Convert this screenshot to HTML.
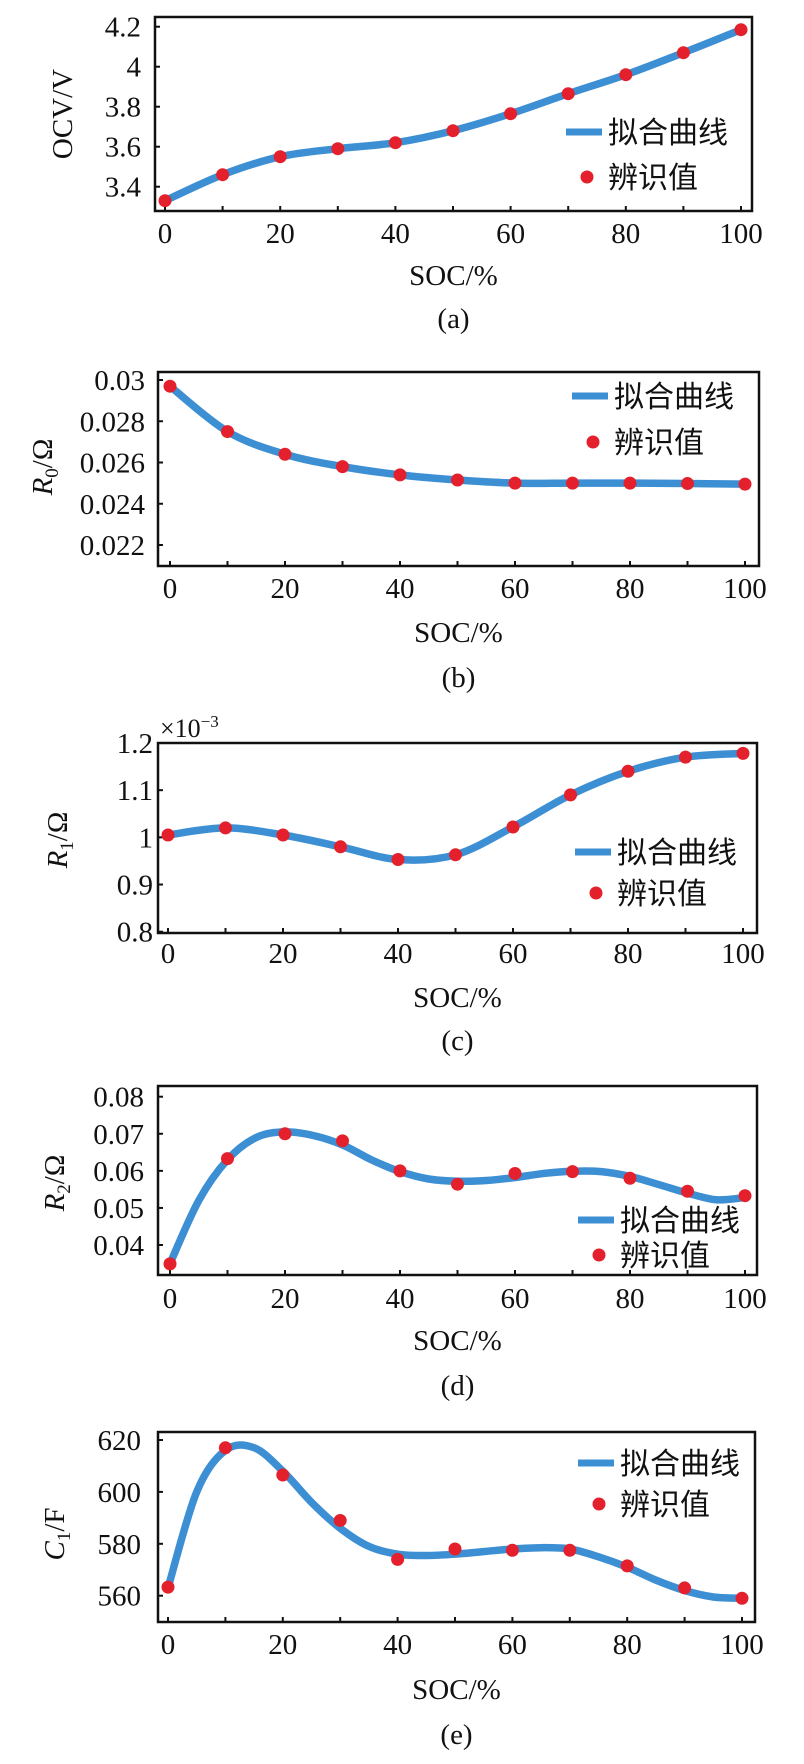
<!DOCTYPE html>
<html><head><meta charset="utf-8">
<style>
html,body{margin:0;padding:0;background:#fff;}
svg{display:block;}
text{font-family:"Liberation Serif","Noto Serif CJK SC",serif;fill:#111;}
.cjk{font-family:"Liberation Serif","Noto Sans CJK SC",sans-serif;}
</style></head>
<body>
<svg id="fig" width="804" height="1764" viewBox="0 0 804 1764" xmlns="http://www.w3.org/2000/svg"></svg>
<script>
const socTicks = [0,20,40,60,80,100];
const socPoints = [0,10,20,30,40,50,60,70,80,90,100];
const fitSoc = [0,5,10,15,20,25,30,35,40,45,50,55,60,65,70,75,80,85,90,95,100];

const ocvTicks = [3.4,3.6,3.8,4.0,4.2];
const ocvTickLabels = ["3.4","3.6","3.8","4","4.2"];
const ocvValues = [3.33,3.46,3.55,3.59,3.62,3.68,3.765,3.865,3.96,4.07,4.185];

const r0Ticks = [0.022,0.024,0.026,0.028,0.03];
const r0TickLabels = ["0.022","0.024","0.026","0.028","0.03"];
const r0Values = [0.0297,0.0275,0.0264,0.0258,0.0254,0.02515,0.0250,0.0250,0.0250,0.02498,0.02495];

const r1Ticks = [0.8,0.9,1.0,1.1,1.2];
const r1TickLabels = ["0.8","0.9","1","1.1","1.2"];
const r1Values = [1.005,1.02,1.005,0.98,0.953,0.963,1.022,1.09,1.14,1.17,1.178];

const r2Ticks = [0.04,0.05,0.06,0.07,0.08];
const r2TickLabels = ["0.04","0.05","0.06","0.07","0.08"];
const r2Values = [0.0349,0.0633,0.0700,0.0681,0.0600,0.0564,0.0593,0.0598,0.0580,0.0545,0.0533];
const r2Fit = [0.035,0.052,0.063,0.069,0.0705,0.0695,0.067,0.063,0.0598,0.0578,0.0572,0.0574,0.0582,0.0593,0.0599,0.0598,0.0585,0.0563,0.0540,0.0522,0.0528];

const c1Ticks = [560,580,600,620];
const c1TickLabels = ["560","580","600","620"];
const c1Values = [563.3,617,606.5,589,574,578,577.5,577.5,571.5,563,559];
const c1Fit = [563,600,616,617,608,596,586,579,576,575.5,576,577,578,578.5,578,575,571,566,562,559.5,559];

const NS = "http://www.w3.org/2000/svg";
const svg = document.getElementById('fig');
function mk(tag, attrs, parent){
  const e = document.createElementNS(NS, tag);
  for (const k in attrs) e.setAttribute(k, attrs[k]);
  (parent||svg).appendChild(e);
  return e;
}
function catmull(pts){
  let d = "M"+pts[0][0]+","+pts[0][1];
  for (let i=0;i<pts.length-1;i++){
    const p0=pts[Math.max(0,i-1)], p1=pts[i], p2=pts[i+1], p3=pts[Math.min(pts.length-1,i+2)];
    const c1x=p1[0]+(p2[0]-p0[0])/6, c1y=p1[1]+(p2[1]-p0[1])/6;
    const c2x=p2[0]-(p3[0]-p1[0])/6, c2y=p2[1]-(p3[1]-p1[1])/6;
    d += " C"+c1x+","+c1y+" "+c2x+","+c2y+" "+p2[0]+","+p2[1];
  }
  return d;
}

function panel(cfg){
  const g = mk('g', {});
  
  
  const xs = v => cfg.x0 + (v/100)*(cfg.x100-cfg.x0);
  const ys = v => cfg.yA + (v-cfg.vA)*(cfg.yB-cfg.yA)/(cfg.vB-cfg.vA);
  // frame
  const fr = mk('rect', {x:cfg.L, y:cfg.T, width:cfg.R-cfg.L, height:cfg.B-cfg.T, fill:'none', stroke:'#111', 'stroke-width':2.5}, g);
  
  
  // y ticks
  cfg.yTicks.forEach((v,i)=>{
    const y = ys(v);
    mk('line',{x1:cfg.L, x2:cfg.L+5, y1:y, y2:y, stroke:'#111','stroke-width':2}, g);
    const t = mk('text',{x:cfg.L-cfg.gap, y:y+10, 'font-size':29, 'text-anchor':'end'}, g);
    
    
    t.textContent = cfg.yLabels[i];
  });
  // x ticks
  socTicks.forEach(v=>{
    const x = xs(v);
    const t = mk('text',{x:x, y:cfg.xLabY, 'font-size':29, 'text-anchor':'middle'}, g);
    
    
    t.textContent = String(v);
  });
  socPoints.forEach(v=>{
    const x = xs(v);
    mk('line',{x1:x, x2:x, y1:cfg.B, y2:cfg.B-5, stroke:'#111','stroke-width':2}, g);
  });
  // x title
  const xt = mk('text',{x:(cfg.L+cfg.R)/2, y:cfg.xTitleY, 'font-size':29, 'text-anchor':'middle'}, g);
  
  
  xt.textContent = 'SOC/%';
  const cap = mk('text',{x:(cfg.L+cfg.R)/2, y:cfg.capY, 'font-size':29, 'text-anchor':'middle'}, g);
  
  
  cap.textContent = cfg.caption;
  // y title
  const yt = mk('text',{x:0, y:0, 'font-size':29, 'text-anchor':'middle', transform:'translate('+cfg.ytX+','+cfg.ytY+') rotate(-90)'}, g);
  
  
  yt.innerHTML = cfg.ytHtml;
  if (cfg.exp){
    const ex = mk('text',{x:cfg.L+2, y:cfg.T-6, 'font-size':26}, g);
    
    
    ex.innerHTML = '×10<tspan dy="-10" font-size="17">−3</tspan>';
  }
  // fit curve
  const fx = cfg.fit ? fitSoc : socPoints;
  const fv = cfg.fit ? cfg.fit : cfg.values;
  const pts = fx.map((s,i)=>[xs(s), ys(fv[i])]);
  const path = mk('path',{d:catmull(pts), fill:'none', stroke:'#3d8fd4', 'stroke-width':7.5, 'stroke-linecap':'round'}, g);
  
  
  // points
  socPoints.forEach((s,i)=>{
    const c = mk('circle',{cx:xs(s), cy:ys(cfg.values[i]), r:6.5, fill:'#e3202b'}, g);
    
    
  });
  // legend
  const lg = mk('g',{}, g);
  
  
  mk('line',{x1:cfg.lgX, x2:cfg.lgX+36, y1:cfg.lgY1, y2:cfg.lgY1, stroke:'#3d8fd4','stroke-width':7}, lg);
  const l1 = mk('text',{x:cfg.lgX+42, y:cfg.lgY1+11, 'font-size':30, 'class':'cjk'}, lg);
  
  
  l1.textContent = '拟合曲线';
  mk('circle',{cx:cfg.lgX+21, cy:cfg.lgY2, r:6.5, fill:'#e3202b'}, lg);
  const l2 = mk('text',{x:cfg.lgX+42, y:cfg.lgY2+11, 'font-size':30, 'class':'cjk'}, lg);
  
  
  l2.textContent = '辨识值';
}

panel({name:'panel-a-ocv', L:155,R:752,T:17,B:211, x0:165,x100:741, vA:4.2,yA:26.7,vB:3.4,yB:186.7,
  yTicks:ocvTicks, yLabels:ocvTickLabels, values:ocvValues, gap:14,
  xLabY:243, xTitleY:285, capY:328, caption:'(a)', ytX:72, ytY:114, ytHtml:'OCV/V',
  lgX:566, lgY1:132, lgY2:177});
panel({name:'panel-b-r0', L:158,R:759,T:372,B:566, x0:170,x100:745, vA:0.03,yA:380,vB:0.022,yB:545,
  yTicks:r0Ticks, yLabels:r0TickLabels, values:r0Values, gap:13,
  xLabY:598, xTitleY:642, capY:687, caption:'(b)', ytX:52, ytY:467, ytHtml:'<tspan font-style="italic">R</tspan><tspan font-size="19" dy="6">0</tspan><tspan dy="-6">/Ω</tspan>',
  lgX:572, lgY1:396, lgY2:442});
panel({name:'panel-c-r1', L:158,R:757,T:743,B:933, x0:168,x100:743, vA:1.2,yA:743,vB:0.8,yB:931.7,
  yTicks:r1Ticks, yLabels:r1TickLabels, values:r1Values, gap:5, exp:true,
  xLabY:963, xTitleY:1007, capY:1050, caption:'(c)', ytX:67, ytY:840, ytHtml:'<tspan font-style="italic">R</tspan><tspan font-size="19" dy="6">1</tspan><tspan dy="-6">/Ω</tspan>',
  lgX:575, lgY1:852, lgY2:893});
panel({name:'panel-d-r2', L:158,R:757,T:1086,B:1275, x0:170,x100:745, vA:0.08,yA:1096.7,vB:0.04,yB:1245,
  yTicks:r2Ticks, yLabels:r2TickLabels, values:r2Values, fit:r2Fit, gap:14,
  xLabY:1308, xTitleY:1350, capY:1395, caption:'(d)', ytX:64, ytY:1183, ytHtml:'<tspan font-style="italic">R</tspan><tspan font-size="19" dy="6">2</tspan><tspan dy="-6">/Ω</tspan>',
  lgX:578, lgY1:1220, lgY2:1255});
panel({name:'panel-e-c1', L:158,R:755,T:1432,B:1622, x0:168,x100:742, vA:620,yA:1440,vB:560,yB:1595.7,
  yTicks:c1Ticks, yLabels:c1TickLabels, values:c1Values, fit:c1Fit, gap:17,
  xLabY:1654, xTitleY:1699, capY:1744, caption:'(e)', ytX:64, ytY:1534, ytHtml:'<tspan font-style="italic">C</tspan><tspan font-size="19" dy="6">1</tspan><tspan dy="-6">/F</tspan>',
  lgX:578, lgY1:1463, lgY2:1504});
</script>
</body></html>
